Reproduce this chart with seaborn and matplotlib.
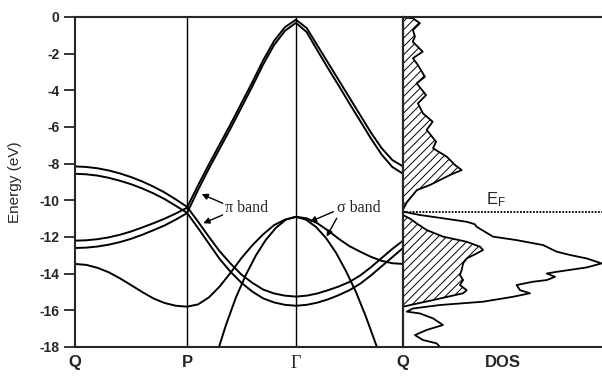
import numpy as np
import pandas as pd
import matplotlib
matplotlib.use("Agg")
import matplotlib.pyplot as plt
import seaborn as sns

# ---- high-symmetry path ----
kpoint_labels = ["Q", "P", "Γ", "Q"]
kpoint_pos = [0.0, 1.0, 1.973, 2.929]

energy_ticks = [0, -2, -4, -6, -8, -10, -12, -14, -16, -18]
energy_tick_labels = ["0", "-2", "-4", "-6", "-8", "-10", "-12", "-14", "-16", "-18"]

# ---- band energies (eV), sampled every tenth of each segment Q-P, P-Γ, Γ-Q ----
pi_a_upper = [-8.15, -8.18, -8.25, -8.37, -8.53, -8.73, -8.97, -9.25, -9.57, -9.95, -10.35,
              -11.15, -11.98, -12.78, -13.45, -14.05, -14.50, -14.87, -15.08, -15.20, -15.25,
              -15.20, -15.08, -14.90, -14.70, -14.45, -14.10, -13.65, -13.15, -12.65, -12.20]
pi_a_lower = [-8.55, -8.58, -8.65, -8.77, -8.93, -9.12, -9.35, -9.62, -9.93, -10.30, -10.68,
              -11.50, -12.35, -13.20, -13.90, -14.50, -14.98, -15.35, -15.57, -15.70, -15.75,
              -15.70, -15.58, -15.40, -15.17, -14.90, -14.55, -14.10, -13.60, -13.10, -12.60]
pi_b_upper = [-12.20, -12.18, -12.12, -12.02, -11.88, -11.70, -11.48, -11.25, -11.00, -10.72, -10.40,
              -9.20, -8.05, -6.95, -5.85, -4.70, -3.55, -2.35, -1.30, -0.55, -0.15,
              -0.60, -1.55, -2.50, -3.45, -4.40, -5.35, -6.30, -7.15, -7.80, -8.15]
pi_b_lower = [-12.60, -12.58, -12.52, -12.42, -12.28, -12.10, -11.88, -11.63, -11.37, -11.05, -10.70,
              -9.45, -8.28, -7.18, -6.08, -4.93, -3.78, -2.58, -1.52, -0.75, -0.32,
              -0.82, -1.82, -2.80, -3.75, -4.72, -5.67, -6.62, -7.50, -8.18, -8.55]
sigma_flat = [-13.47, -13.52, -13.68, -13.92, -14.25, -14.62, -15.00, -15.35, -15.60, -15.75, -15.80,
              -15.68, -15.30, -14.70, -13.95, -13.15, -12.45, -11.85, -11.35, -11.05, -10.90,
              -10.98, -11.25, -11.65, -12.10, -12.50, -12.80, -13.08, -13.30, -13.43, -13.47]

# steep σ band around Γ
sigma_steep_k = [1.286, 1.348, 1.437, 1.527, 1.616, 1.705, 1.794, 1.884, 1.973,
                 2.062, 2.152, 2.241, 2.330, 2.419, 2.509, 2.598, 2.696]
sigma_steep_e = [-18.0, -16.8, -15.3, -14.05, -13.0, -12.15, -11.5, -11.05, -10.9,
                 -11.05, -11.45, -12.05, -12.85, -13.85, -15.0, -16.35, -18.0]

# ---- density of states (arbitrary units) ----
fermi_level = -10.62
dos_occ_upper_e = [-0.02, -0.07, -0.34, -0.71, -1.07, -1.35, -1.89, -2.25, -2.62, -3.26, -3.62,
                   -4.26, -4.71, -5.25, -5.71, -6.16, -6.80, -7.16, -7.62, -8.07, -8.35, -8.62,
                   -9.16, -9.44, -9.70, -10.10, -10.50]
dos_occ_upper = [0.0, 0.50, 0.85, 0.50, 0.60, 0.49, 0.99, 0.50, 0.75, 1.10, 0.69,
                 1.16, 0.75, 1.00, 1.49, 1.19, 1.66, 1.51, 2.20, 2.61, 2.95, 2.36,
                 1.36, 0.70, 0.50, 0.20, 0.0]
dos_occ_lower_e = [-10.80, -11.00, -11.26, -11.62, -11.98, -12.26, -12.53, -12.71, -12.90, -13.17,
                   -13.44, -13.80, -14.07, -14.35, -14.62, -14.90, -15.07, -15.44, -15.80]
dos_occ_lower = [0.0, 0.35, 0.69, 1.19, 2.01, 3.20, 3.87, 4.02, 3.70, 3.20,
                 3.02, 2.95, 2.86, 3.02, 2.86, 3.20, 3.02, 1.51, 0.0]
dos_total_e = [-10.62, -10.80, -10.98, -11.17, -11.30, -11.44, -11.98, -12.17, -12.44, -12.80,
               -12.98, -13.17, -13.44, -13.66, -13.90, -13.99, -14.17, -14.35, -14.44, -14.62,
               -14.90, -15.07, -15.26, -15.53, -15.71, -15.90, -16.07, -16.17, -16.44, -16.80,
               -17.07, -17.35, -17.62, -17.80, -18.00]
dos_total = [0.02, 0.85, 2.01, 3.20, 3.60, 3.70, 4.52, 5.71, 7.04, 7.72,
             8.39, 9.23, 9.98, 9.23, 7.72, 7.22, 7.64, 7.22, 6.53, 5.71,
             5.88, 6.38, 5.53, 4.02, 1.86, 0.50, 0.19, 0.85, 1.51, 2.01,
             1.19, 0.60, 1.00, 1.69, 1.86]

# ---- style ----
sns.set_style("ticks")
SANS = "Liberation Sans"
SERIF = "Liberation Serif"
plt.rcParams["font.family"] = [SANS, "DejaVu Sans"]
plt.rcParams["hatch.linewidth"] = 0.7
plt.rcParams["axes.unicode_minus"] = False
plt.rcParams["lines.solid_joinstyle"] = "round"

W, H = 602, 376
fig = plt.figure(figsize=(W / 100, H / 100), dpi=100)
left, right_band, right_dos = 75, 403, 602
top, bottom = 17, 347
ax = fig.add_axes([left / W, 1 - bottom / H, (right_band - left) / W, (bottom - top) / H])
ax2 = fig.add_axes([right_band / W, 1 - bottom / H, (right_dos - right_band) / W, (bottom - top) / H],
                   sharey=ax)

# k grid: ten steps per segment
k_grid = [kpoint_pos[0]]
for a, b in zip(kpoint_pos[:-1], kpoint_pos[1:]):
    k_grid.extend(np.linspace(a, b, 11)[1:])
k_grid = np.array(k_grid)

bands = pd.DataFrame({
    "k": np.tile(k_grid, 5),
    "E": pi_a_upper + pi_a_lower + pi_b_upper + pi_b_lower + sigma_flat,
    "band": np.repeat(["pi_a_upper", "pi_a_lower", "pi_b_upper", "pi_b_lower", "sigma_flat"], len(k_grid)),
})
sns.lineplot(data=bands, x="k", y="E", units="band", estimator=None, sort=False,
             color="black", lw=1.4, ax=ax, legend=False)
sns.lineplot(x=sigma_steep_k, y=sigma_steep_e, estimator=None, sort=False,
             color="black", lw=1.4, ax=ax)

for kp in kpoint_pos[1:3]:
    ax.axvline(kp, color="black", lw=1.0)

ax.set_xlim(kpoint_pos[0], kpoint_pos[-1])
ax.set_ylim(-18, 0)
ax.set_yticks(energy_ticks)
ax.set_yticklabels(energy_tick_labels, fontsize=10, fontweight="bold")
ax.set_xticks(kpoint_pos)
ax.set_xticklabels(kpoint_labels, fontsize=12, fontweight="bold")
gamma_label = ax.get_xticklabels()[2]
gamma_label.set_fontfamily(SERIF)
gamma_label.set_fontweight("normal")
gamma_label.set_fontsize(13)
ax.tick_params(axis="y", direction="out", length=8, width=1.3, pad=3)
ax.tick_params(axis="x", length=0, pad=6)
ax.set_xlabel("")
ax.set_ylabel("Energy (eV)", fontsize=11)
ax.yaxis.set_label_coords(-0.162, 0.5)
for side in ["left", "top", "bottom"]:
    ax.spines[side].set_linewidth(1.5)
ax.spines["right"].set_visible(False)

# band labels with arrows
ax.text(1.339, -10.42, "π band", family=SERIF, fontsize=11.5, va="center", ha="left")
ax.text(2.337, -10.42, "σ band", family=SERIF, fontsize=11.5, va="center", ha="left")
arrow_style = dict(arrowstyle="-|>", color="black", lw=1.0, shrinkA=0, shrinkB=0, mutation_scale=9)
for head, tail in [((1.131, -9.66), (1.319, -10.16)),
                   ((1.146, -11.25), (1.318, -10.80)),
                   ((2.098, -11.17), (2.307, -10.62)),
                   ((2.247, -11.98), (2.337, -10.98))]:
    ax.annotate("", xy=head, xytext=tail, arrowprops=arrow_style)

# DOS panel
ax2.fill_betweenx(dos_occ_upper_e, 0, dos_occ_upper, facecolor="white",
                  edgecolor="black", hatch="////", linewidth=1.3)
ax2.fill_betweenx(dos_occ_lower_e, 0, dos_occ_lower, facecolor="white",
                  edgecolor="black", hatch="////", linewidth=1.3)
sns.lineplot(x=dos_total, y=dos_total_e, estimator=None, sort=False,
             color="black", lw=1.3, ax=ax2)
ax2.axhline(fermi_level, color="black", lw=1.3, ls=(0, (1, 0.8)))
ax2.text(4.67, -9.95, r"$\mathregular{E_F}$", fontsize=12, ha="center", va="center")

ax2.set_xlim(0, 10)
ax2.set_xticks([5])
ax2.set_xticklabels(["DOS"], fontsize=12, fontweight="bold")
ax2.tick_params(axis="x", length=0, pad=6)
ax2.tick_params(axis="y", left=False, labelleft=False)
ax2.set_xlabel("")
ax2.set_ylabel("")
ax2.spines["right"].set_visible(False)
ax2.spines["left"].set_linewidth(1.6)
for side in ["top", "bottom"]:
    ax2.spines[side].set_linewidth(1.5)

fig.savefig("out.png", dpi=100, facecolor="white")
